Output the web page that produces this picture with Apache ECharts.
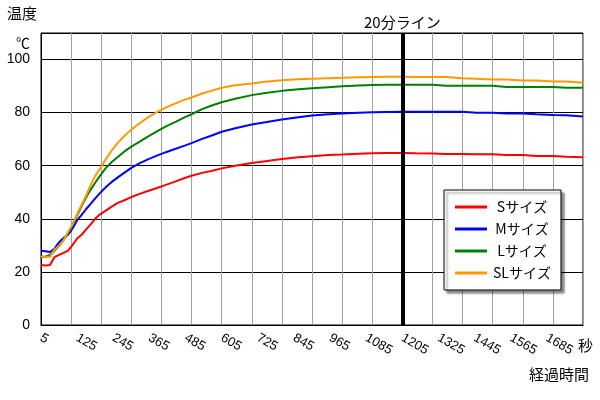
<!DOCTYPE html>
<html>
<head>
<meta charset="utf-8">
<script src="https://cdn.jsdelivr.net/npm/echarts@6/dist/echarts.min.js"></script>
<style>
html,body{margin:0;padding:0;background:#fff;}
#chart{width:600px;height:400px;}
</style>
</head>
<body>
<div id="chart"></div>
<script>
// Elapsed time (seconds)
const times = [5, 20, 35, 50, 65, 80, 95, 110, 125, 140, 155, 170, 185, 200, 220, 240, 260, 280, 305, 330, 360, 390, 420, 450, 480, 505, 540, 570, 605, 650, 705, 750, 805, 860, 905, 960, 1005, 1060, 1105, 1150, 1205, 1250, 1305, 1350, 1405, 1450, 1505, 1550, 1605, 1650, 1705, 1750, 1805];

const seriesNames = ['Sサイズ', 'Mサイズ', 'Lサイズ', 'SLサイズ'];

const sValues = [22.6, 22.4, 22.6, 25.6, 26.4, 27.2, 28.0, 30.2, 32.6, 34.0, 36.0, 37.9, 40.0, 41.6, 43.1, 44.6, 46.0, 46.9, 48.2, 49.3, 50.5, 51.6, 52.8, 54.0, 55.3, 56.2, 57.3, 58.0, 59.0, 60.0, 61.0, 61.7, 62.5, 63.2, 63.6, 64.0, 64.2, 64.5, 64.7, 64.8, 64.8, 64.7, 64.6, 64.4, 64.4, 64.3, 64.3, 64.0, 64.0, 63.7, 63.7, 63.4, 63.2];

const mValues = [28.0, 27.8, 27.5, 28.8, 31.2, 32.8, 34.0, 36.4, 39.5, 41.5, 43.7, 45.6, 47.7, 49.6, 51.9, 53.9, 55.6, 57.2, 59.2, 60.8, 62.4, 63.8, 65.1, 66.3, 67.5, 68.5, 70.1, 71.3, 72.8, 74.1, 75.5, 76.4, 77.4, 78.3, 78.9, 79.4, 79.7, 80.0, 80.1, 80.2, 80.3, 80.3, 80.3, 80.3, 80.3, 80.0, 80.0, 79.7, 79.7, 79.4, 79.1, 79.0, 78.5];

const lValues = [25.7, 25.7, 26.5, 28.0, 29.8, 32.0, 34.6, 37.9, 41.3, 44.8, 48.1, 51.0, 53.6, 56.1, 59.1, 61.4, 63.3, 65.2, 67.2, 68.9, 71.0, 72.9, 74.8, 76.4, 78.1, 79.4, 81.3, 82.6, 83.9, 85.2, 86.6, 87.4, 88.2, 88.8, 89.2, 89.6, 89.9, 90.2, 90.4, 90.5, 90.5, 90.5, 90.5, 90.1, 90.1, 90.1, 90.1, 89.7, 89.7, 89.7, 89.7, 89.4, 89.4];

const slValues = [25.7, 25.7, 25.7, 28.5, 29.8, 32.0, 35.0, 38.0, 41.8, 45.3, 48.8, 52.7, 56.2, 58.7, 62.4, 65.8, 68.6, 71.0, 73.6, 75.8, 78.2, 80.2, 82.0, 83.4, 84.8, 85.7, 87.2, 88.2, 89.4, 90.3, 91.0, 91.6, 92.2, 92.6, 92.8, 93.0, 93.1, 93.3, 93.4, 93.5, 93.5, 93.4, 93.4, 93.4, 93.0, 92.8, 92.5, 92.5, 92.1, 92.1, 91.7, 91.7, 91.3];

const colors = ['#ff0000', '#0000ff', '#008000', '#ff9900'];
const lineMarkTime = 1205;
const lineMarkLabel = '20分ライン';

const allValues = [sValues, mValues, lValues, slValues];
const FONT = 'Arial, "Liberation Sans", sans-serif';
const CJK = '"Noto Sans CJK JP", sans-serif';

const chart = echarts.init(document.getElementById('chart'), null, {renderer: 'canvas'});

const series = seriesNames.map((name, i) => {
  const s = {
    name: name,
    type: 'line',
    xAxisIndex: 0,
    yAxisIndex: 0,
    showSymbol: false,
    symbol: 'none',
    lineStyle: {width: 2, color: colors[i]},
    itemStyle: {color: colors[i]},
    data: times.map((t, k) => [t, allValues[i][k]]),
    animation: false,
    z: 3
  };
  if (i === 0) {
    s.markLine = {
      silent: true,
      symbol: 'none',
      animation: false,
      lineStyle: {color: '#000', width: 4, type: 'solid'},
      label: {show: true, position: 'end', formatter: lineMarkLabel, color: '#000', fontSize: 15, fontFamily: CJK, distance: 3},
      data: [{xAxis: lineMarkTime}],
      z: 5
    };
  }
  return s;
});

chart.setOption({
  animation: false,
  backgroundColor: '#fff',
  grid: {left: 41, right: 17, top: 33, bottom: 75, show: true, borderColor: '#000', borderWidth: 1, backgroundColor: '#fff'},
  legend: {
    orient: 'vertical',
    left: 444, top: 190,
    padding: [10, 10, 10, 11],
    itemGap: 8,
    itemWidth: 32,
    itemHeight: 3,
    icon: 'rect',
    backgroundColor: '#fff',
    borderColor: '#000',
    borderWidth: 1,
    shadowColor: 'rgba(0,0,0,0.45)',
    shadowBlur: 2,
    shadowOffsetX: 3,
    shadowOffsetY: 3,
    formatter: n => '{a|' + n + '}',
    textStyle: {
      color: '#000', fontSize: 14, fontFamily: CJK,
      rich: {a: {width: 60, align: 'center', fontSize: 14, fontFamily: CJK, color: '#000'}}
    },
    data: seriesNames
  },
  xAxis: [
    {
      type: 'value', min: 5, max: 1805, interval: 120, position: 'bottom',
      axisLine: {show: true, lineStyle: {color: '#000', width: 1}},
      axisTick: {show: false},
      splitLine: {show: false},
      axisLabel: {
        rotate: -30, margin: 12, color: '#000', fontSize: 13, fontFamily: FONT,
        formatter: v => (v === 1805 ? '' : String(v))
      }
    },
    {
      type: 'value', min: 5, max: 1805, interval: 100, position: 'top',
      axisLine: {show: false}, axisTick: {show: false}, axisLabel: {show: false},
      splitLine: {show: true, lineStyle: {color: '#a0a0a0', width: 1}}
    }
  ],
  yAxis: {
    type: 'value', min: 0, max: 110, interval: 20,
    axisLine: {show: true, lineStyle: {color: '#000', width: 1}},
    axisTick: {show: false},
    splitLine: {show: true, lineStyle: {color: '#000', width: 1}},
    axisLabel: {color: '#000', fontSize: 14, fontFamily: FONT, margin: 11,
      formatter: v => (v > 100 ? '' : String(v))}
  },
  graphic: [
    {type: 'text', left: 7, top: 6, style: {text: '温度', fontSize: 15, fontFamily: CJK, fill: '#000'}},
    {type: 'text', left: 16, top: 36, style: {text: '℃', fontSize: 14, fontFamily: CJK, fill: '#000'}},
    {type: 'text', left: 578, top: 338, style: {text: '秒', fontSize: 15, fontFamily: CJK, fill: '#000'}},
    {type: 'text', left: 529, top: 367, style: {text: '経過時間', fontSize: 15, fontFamily: CJK, fill: '#000'}}
  ],
  series: series
});
</script>
</body>
</html>
